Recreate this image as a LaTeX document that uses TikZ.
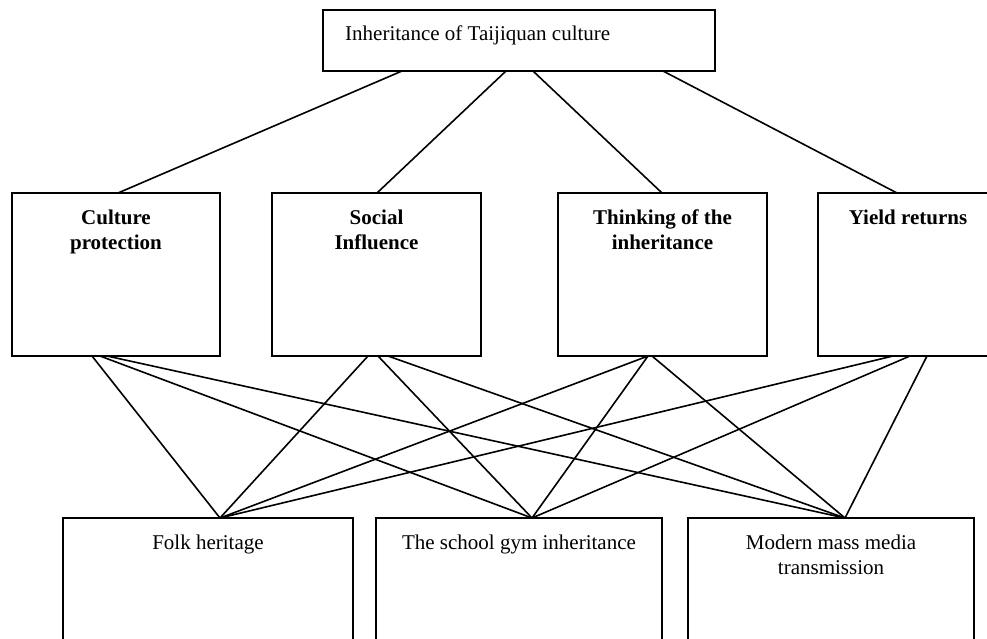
\documentclass[tikz,border=0pt]{standalone}
\usepackage{fontspec}
\setmainfont{Liberation Serif}
\begin{document}
\begin{tikzpicture}[x=1pt,y=-1pt,
  box/.style={draw, line width=2pt, inner sep=0pt, outer sep=0pt},
  conn/.style={line width=1.6pt},
  lab/.style={inner sep=0pt, align=center, font=\fontsize{21}{25}\selectfont},
  blab/.style={lab, font=\fontsize{21}{25}\selectfont\bfseries}]
\useasboundingbox (0,0) rectangle (987,638);
\fill[white] (0,0) rectangle (987,638);
\clip (0,0) rectangle (987,638);
% boxes
\node[box, minimum width=392pt, minimum height=61pt] (top) at (519,40.5) {};
\node[box, minimum width=208pt, minimum height=163pt] (b1) at (116,274.5) {};
\node[box, minimum width=209pt, minimum height=163pt] (b2) at (376.5,274.5) {};
\node[box, minimum width=209pt, minimum height=163pt] (b3) at (662.5,274.5) {};
\node[box, minimum width=180pt, minimum height=163pt] (b4) at (908,274.5) {};
\node[box, minimum width=290pt, minimum height=163pt] (f1) at (208,599.5) {};
\node[box, minimum width=286pt, minimum height=163pt] (f2) at (519,599.5) {};
\node[box, minimum width=286pt, minimum height=163pt] (f3) at (831,599.5) {};
% texts
\node[lab, anchor=base west] (ttop) at ([xshift=22pt,yshift=-30pt]top.north west) {Inheritance of Taijiquan culture};
\node[blab, anchor=north] (t1) at ([yshift=-16.7pt]b1.north) {Culture\\protection};
\node[blab, anchor=north] (t2) at ([yshift=-16.7pt]b2.north) {Social\\Influence};
\node[blab, anchor=north] (t3) at ([yshift=-16.7pt]b3.north) {Thinking of the\\inheritance};
\node[blab, anchor=north] (t4) at ([yshift=-16.7pt]b4.north) {Yield returns};
\node[lab, anchor=north] (u1) at ([yshift=-16.7pt]f1.north) {Folk heritage};
\node[lab, anchor=north] (u2) at ([yshift=-16.7pt]f2.north) {The school gym inheritance};
\node[lab, anchor=north] (u3) at ([yshift=-16.7pt]f3.north) {Modern mass media\\transmission};
% top connectors
\draw[conn] ([xshift=-117pt]top.south) -- ([xshift=2pt]b1.north);
\draw[conn] ([xshift=-13pt]top.south) -- ([xshift=0.5pt]b2.north);
\draw[conn] ([xshift=14pt]top.south) -- ([xshift=-0.5pt]b3.north);
\draw[conn] ([xshift=144pt]top.south) -- ([xshift=-11pt]b4.north);
% bottom connectors
\draw[conn] ([xshift=-24pt]b1.south) -- ([xshift=12pt]f1.north);
\draw[conn] ([xshift=-16pt]b1.south) -- ([xshift=13pt]f2.north);
\draw[conn] ([xshift=-9pt]b1.south) -- ([xshift=14pt]f3.north);
\draw[conn] ([xshift=-8.5pt]b2.south) -- ([xshift=12pt]f1.north);
\draw[conn] ([xshift=1.5pt]b2.south) -- ([xshift=13pt]f2.north);
\draw[conn] ([xshift=11.5pt]b2.south) -- ([xshift=14pt]f3.north);
\draw[conn] ([xshift=-14.5pt]b3.south) -- ([xshift=12pt]f1.north);
\draw[conn] ([xshift=-14.5pt]b3.south) -- ([xshift=13pt]f2.north);
\draw[conn] ([xshift=-10.5pt]b3.south) -- ([xshift=14pt]f3.north);
\draw[conn] ([xshift=-15pt]b4.south) -- ([xshift=12pt]f1.north);
\draw[conn] ([xshift=2pt]b4.south) -- ([xshift=13pt]f2.north);
\draw[conn] ([xshift=19pt]b4.south) -- ([xshift=14pt]f3.north);
\end{tikzpicture}
\end{document}
